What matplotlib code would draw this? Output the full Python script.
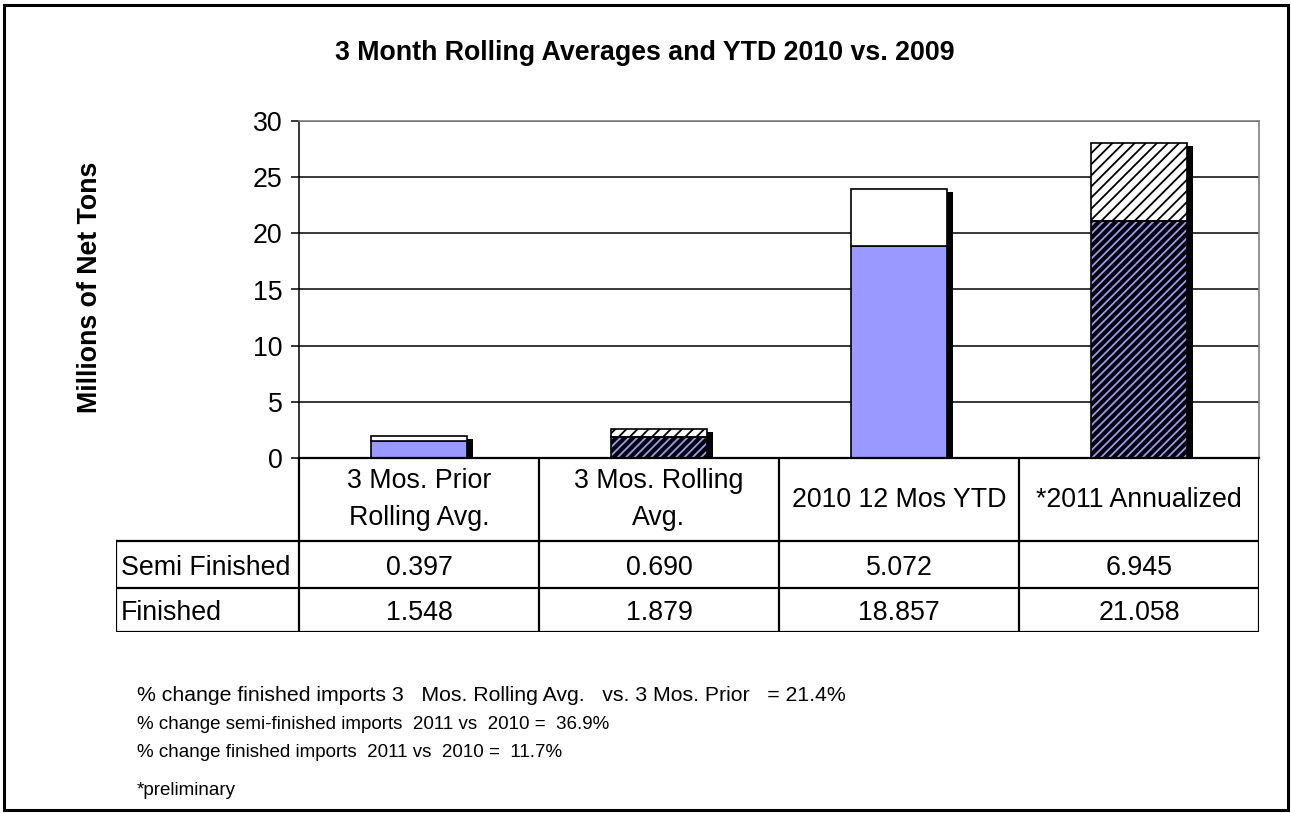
import matplotlib
matplotlib.use('Agg')
import matplotlib.pyplot as plt
import matplotlib.transforms as mtransforms
from matplotlib.patches import Rectangle
import numpy as np

plt.rcParams['font.family'] = ['Liberation Sans', 'DejaVu Sans']
plt.rcParams['hatch.linewidth'] = 1.3

# data (millions of net tons)
categories = ['3 Mos. Prior\nRolling Avg.', '3 Mos. Rolling\nAvg.',
              '2010 12 Mos YTD', '*2011 Annualized']
semi_finished = [0.397, 0.690, 5.072, 6.945]
finished = [1.548, 1.879, 18.857, 21.058]
row_labels = ['Semi Finished', 'Finished']

title = '3 Month Rolling Averages and YTD 2010 vs. 2009'
notes = ['% change finished imports 3   Mos. Rolling Avg.   vs. 3 Mos. Prior   = 21.4%',
         '% change semi-finished imports  2011 vs  2010 =  36.9%',
         '% change finished imports  2011 vs  2010 =  11.7%']
footnote = '*preliminary'

# styling
hatched = [False, True, False, True]
blue = '#9999FF'
fs = 19.3
note_fs = [15.3, 13.5, 13.5]

W, H = 1291, 813
fig = plt.figure(figsize=(W / 100., H / 100.), dpi=100)

def fx(px):
    return px / float(W)

def fy(py):
    return 1 - py / float(H)

# main plot area
ax = fig.add_axes([fx(299), fy(458), fx(1259) - fx(299), fy(121) - fy(458)])
x = np.arange(len(categories))
bw = 0.4
semi = np.array(semi_finished)
fin = np.array(finished)
total = semi + fin

# drop shadow behind each stacked bar
shadow_tr = mtransforms.offset_copy(ax.transData, fig=fig, x=4.5, y=-2.2, units='points')
ax.bar(x, total, bw, color='black', transform=shadow_tr, zorder=1.5)

for i in range(len(x)):
    if hatched[i]:
        ax.bar(x[i], fin[i], bw, color='black', edgecolor=blue, hatch='////', linewidth=0, zorder=2)
        ax.bar(x[i], fin[i], bw, fill=False, edgecolor='black', linewidth=1.2, zorder=2.1)
        ax.bar(x[i], semi[i], bw, bottom=fin[i], color='white', edgecolor='black',
               hatch='///', linewidth=1.2, zorder=2)
    else:
        ax.bar(x[i], fin[i], bw, color=blue, edgecolor='black', linewidth=1.2, zorder=2)
        ax.bar(x[i], semi[i], bw, bottom=fin[i], color='white', edgecolor='black',
               linewidth=1.2, zorder=2)

ax.set_xlim(-0.5, len(x) - 0.5)
ax.set_ylim(0, 30)
ax.set_yticks(np.arange(0, 31, 5))
ax.set_xticks([])
ax.set_axisbelow(True)
ax.yaxis.grid(True, color='black', linewidth=1.1)
ax.tick_params(axis='y', direction='out', length=6, width=1.1, labelsize=fs, pad=6)
for s in ['top', 'right']:
    ax.spines[s].set_color('#808080')
    ax.spines[s].set_linewidth(1.2)
ax.spines['left'].set_linewidth(1.1)
ax.spines['bottom'].set_linewidth(1.6)

# data table below the plot
label_w = (299 - 116) / 240.
tax = fig.add_axes([fx(116), fy(632), fx(1259) - fx(116), fy(458) - fy(632)])
tax.set_xlim(-0.5 - label_w, len(x) - 0.5)
rows = [0, 44, 91, 174]  # finished, semi, header
tax.set_ylim(rows[0], rows[-1])
tax.axis('off')
lk = dict(color='black', linewidth=1.6, solid_capstyle='projecting')
left = -0.5 - label_w
right = len(x) - 0.5
for xv in np.arange(-0.5, len(x), 1.0):
    tax.plot([xv, xv], [rows[0], rows[-1]], **lk)
tax.plot([left, left], [rows[0], rows[2]], **lk)
for yv in rows[:3]:
    tax.plot([left, right], [yv, yv], **lk)

for i, c in enumerate(categories):
    tax.text(x[i], (rows[2] + rows[3]) / 2., c, ha='center', va='center',
             fontsize=fs, linespacing=1.55)
    tax.text(x[i], (rows[1] + rows[2]) / 2., '%.3f' % semi[i], ha='center',
             va='center_baseline', fontsize=fs)
    tax.text(x[i], (rows[0] + rows[1]) / 2., '%.3f' % fin[i], ha='center',
             va='center_baseline', fontsize=fs)
tax.text(left + 0.02, (rows[1] + rows[2]) / 2., row_labels[0], ha='left',
         va='center_baseline', fontsize=fs)
tax.text(left + 0.02, (rows[0] + rows[1]) / 2., row_labels[1], ha='left',
         va='center_baseline', fontsize=fs)

# titles and notes
fig.text(fx(645), fy(53), title, ha='center', va='center', fontsize=fs, weight='bold')
fig.text(fx(90), fy(287), 'Millions of Net Tons', rotation=90, ha='center', va='center',
         fontsize=fs, weight='bold')
for yy, n, nf in zip([695, 724, 752], notes, note_fs):
    fig.text(fx(137), fy(yy), n, ha='left', va='center', fontsize=nf)
fig.text(fx(137), fy(790), footnote, ha='left', va='center', fontsize=13.5)

# outer frame
fig.add_artist(Rectangle((fx(4), fy(810)), fx(1288) - fx(4), fy(5) - fy(810),
                         transform=fig.transFigure, fill=False, linewidth=2.2, edgecolor='black'))

fig.savefig('out.png', dpi=100)
